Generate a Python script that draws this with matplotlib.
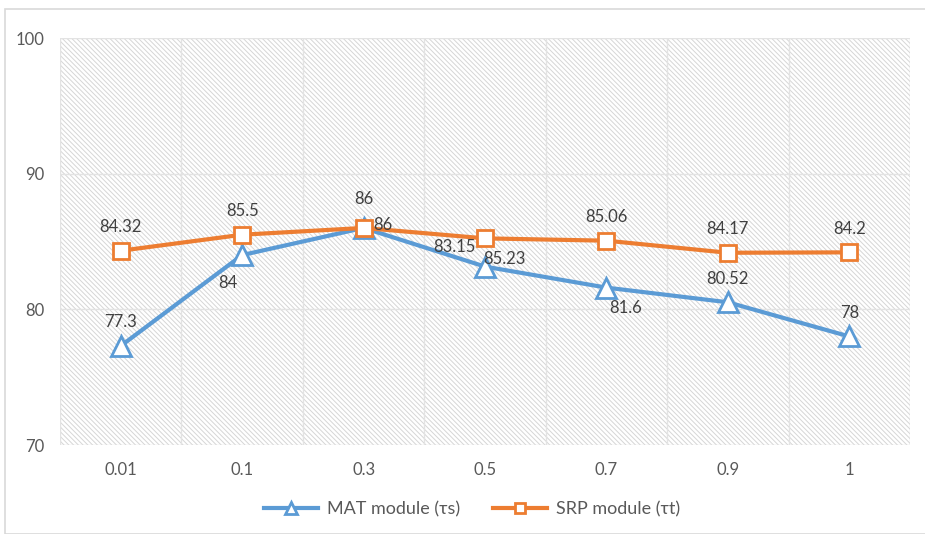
import matplotlib.pyplot as plt
from matplotlib.patches import Rectangle

# Data
categories = ['0.01', '0.1', '0.3', '0.5', '0.7', '0.9', '1']
mat_values = [77.3, 84, 86, 83.15, 81.6, 80.52, 78]
srp_values = [84.32, 85.5, 86, 85.23, 85.06, 84.17, 84.2]

# label offsets in points (dx, dy)
mat_offsets = [(0, 17), (-10, -20), (14, 2), (-22, 14), (14, -15), (0, 17), (0, 17)]
srp_offsets = [(0, 17), (0, 17), (0, 21), (14, -15), (0, 17), (0, 17), (0, 17)]

plt.rcParams['font.family'] = ['Lato', 'DejaVu Sans']
plt.rcParams['hatch.linewidth'] = 0.7

fig = plt.figure(figsize=(9.25, 5.34), dpi=100)
ax = fig.add_axes([60 / 925, 89 / 534, 850 / 925, 407 / 534])

# chart area border
fig.patches.append(Rectangle((5 / 925, 0.0), 1.0, 525 / 534, transform=fig.transFigure,
                             fill=False, edgecolor='#d9d9d9', linewidth=1.2))

# hatched plot area
ax.add_patch(Rectangle((0, 0), 1, 1, transform=ax.transAxes, facecolor='white',
                       edgecolor='#d6d6d6', linewidth=0, hatch='\\\\\\\\\\\\\\', zorder=0))

x = list(range(len(categories)))
ax.plot(x, mat_values, color='#5b9bd5', linewidth=3, marker='^', markersize=14,
        markerfacecolor='white', markeredgecolor='#5b9bd5', markeredgewidth=2,
        label='MAT module (τs)', zorder=3)
ax.plot(x, srp_values, color='#ed7d31', linewidth=3, marker='s', markersize=12,
        markerfacecolor='white', markeredgecolor='#ed7d31', markeredgewidth=2,
        label='SRP module (τt)', zorder=4)

for i in x:
    ax.annotate(f'{mat_values[i]:g}', (i, mat_values[i]), textcoords='offset points',
                xytext=mat_offsets[i], ha='center', va='center', fontsize=12, color='#404040', zorder=5)
    ax.annotate(f'{srp_values[i]:g}', (i, srp_values[i]), textcoords='offset points',
                xytext=srp_offsets[i], ha='center', va='center', fontsize=12, color='#404040', zorder=5)

ax.set_xlim(-0.5, len(categories) - 0.5)
ax.set_ylim(70, 100)
ax.set_yticks([70, 80, 90, 100])
ax.set_xticks(x)
ax.set_xticklabels(categories)
ax.set_xticks([i + 0.5 for i in range(-1, len(categories))], minor=True)
ax.grid(True, which='minor', axis='x', color='#e3e3e3', linewidth=1)
ax.grid(True, which='major', axis='y', color='#e3e3e3', linewidth=1)
ax.tick_params(which='both', length=0, labelsize=12, labelcolor='#595959')
ax.tick_params(axis='x', pad=12)
ax.tick_params(axis='y', pad=11)
for s in ax.spines.values():
    s.set_visible(False)

fig.legend(loc='center', bbox_to_anchor=(472 / 925, 25 / 534), ncol=2, frameon=False,
           fontsize=13, labelcolor='#595959', handlelength=3.0, handletextpad=0.5,
           columnspacing=1.8, markerscale=0.65)

fig.savefig('out.png', dpi=100)
